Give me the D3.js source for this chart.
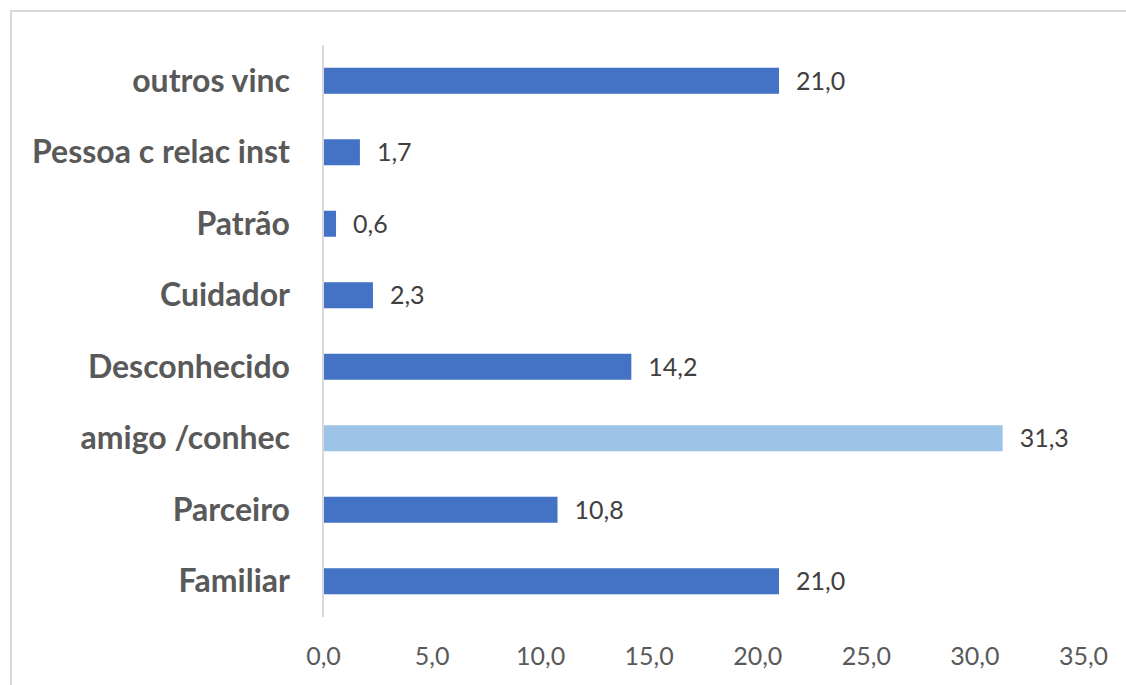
<!DOCTYPE html>
<html>
<head>
<meta charset="utf-8">
<script src="https://cdn.jsdelivr.net/npm/d3@7"></script>
<style>
  body { margin: 0; background: #fff; overflow: hidden; }
  svg { display: block; }
  text { font-family: Lato, "Open Sans", sans-serif; }
</style>
</head>
<body>
<div id="chart"></div>
<script>
// data (top to bottom)
var categories = ["outros vinc", "Pessoa c relac inst", "Patrão", "Cuidador", "Desconhecido", "amigo /conhec", "Parceiro", "Familiar"];
var values = [21.0, 1.7, 0.6, 2.3, 14.2, 31.3, 10.8, 21.0];
var highlight = ["amigo /conhec"];
var xTicks = [0, 5, 10, 15, 20, 25, 30, 35];

var svgWidth = 1126;
var svgHeight = 685;

var svg = d3.select("#chart")
  .append("svg")
  .attr("width", svgWidth)
  .attr("height", svgHeight);

// chart border: only the top and left edges are inside the picture
svg.append("path")
  .attr("d", `M11,${svgHeight} L11,11 L${svgWidth},11`)
  .attr("fill", "none")
  .attr("stroke", "#d9d9d9")
  .attr("stroke-width", 2);

var xScale = d3.scaleLinear()
  .domain([0, 35])
  .range([323, 1083]);

var yScale = d3.scaleBand()
  .domain(categories)
  .range([45, 617])
  .paddingInner(0.636)
  .paddingOuter(0.318);

var fmt = function(v) { return d3.format(".1f")(v).replace(".", ","); };

// bars
svg.selectAll("rect.bar")
  .data(categories)
  .enter()
  .append("rect")
  .attr("class", "bar")
  .attr("x", xScale(0))
  .attr("y", d => yScale(d))
  .attr("width", (d, i) => xScale(values[i]) - xScale(0))
  .attr("height", yScale.bandwidth())
  .attr("fill", d => highlight.indexOf(d) >= 0 ? "#9dc3e6" : "#4472c4");

// vertical axis line
svg.append("line")
  .attr("x1", xScale(0))
  .attr("x2", xScale(0))
  .attr("y1", 45)
  .attr("y2", 617)
  .attr("stroke", "#d9d9d9")
  .attr("stroke-width", 2);

// category labels
svg.selectAll("text.cat")
  .data(categories)
  .enter()
  .append("text")
  .attr("class", "cat")
  .attr("x", 290)
  .attr("y", d => yScale(d) + yScale.bandwidth() / 2)
  .attr("dy", "0.35em")
  .attr("text-anchor", "end")
  .attr("font-size", "32px")
  .attr("font-weight", "bold")
  .attr("fill", "#595959")
  .text(d => d);

// data labels
svg.selectAll("text.val")
  .data(categories)
  .enter()
  .append("text")
  .attr("class", "val")
  .attr("x", (d, i) => xScale(values[i]) + 17)
  .attr("y", d => yScale(d) + yScale.bandwidth() / 2)
  .attr("dy", "0.35em")
  .attr("font-size", "25px")
  .attr("fill", "#404040")
  .text((d, i) => fmt(values[i]));

// x axis tick labels
var bottomAxis = d3.axisBottom(xScale)
  .tickValues(xTicks)
  .tickFormat(fmt)
  .tickSize(0)
  .tickPadding(0);

var axisG = svg.append("g")
  .attr("transform", "translate(0, 656)")
  .call(bottomAxis);
axisG.select(".domain").remove();
axisG.selectAll("text")
  .attr("dy", "0.35em")
  .attr("font-size", "25px")
  .attr("font-family", "Lato, sans-serif")
  .attr("fill", "#595959");
</script>
</body>
</html>
